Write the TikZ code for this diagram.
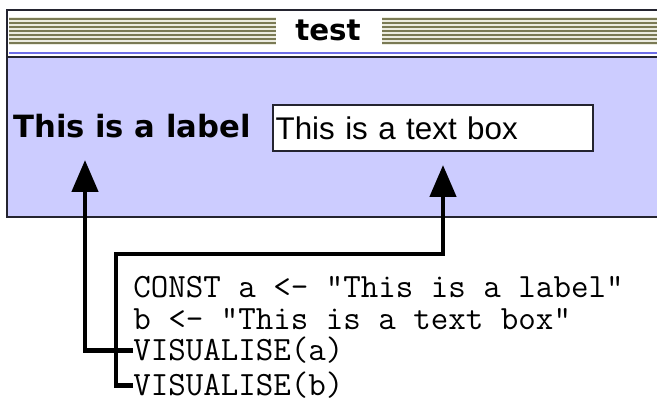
\documentclass[tikz,border=0pt]{standalone}
\usepackage{fontspec}
\usepackage{tikz}
\usetikzlibrary{arrows.meta,positioning}
\newfontfamily\guifont{DejaVu Sans}
\newfontfamily\fieldfont{Liberation Sans}
\definecolor{winblue}{RGB}{204,204,255}
\definecolor{stripe}{RGB}{122,122,84}
\definecolor{stripebg}{RGB}{236,236,224}
\definecolor{titleline}{RGB}{110,110,232}
\definecolor{frame}{RGB}{36,36,48}
\tikzset{guilabel/.style={font=\guifont\bfseries\fontsize{23}{26}\selectfont, inner sep=0pt, anchor=base west},
textfield/.style={draw=frame, line width=1.5pt, fill=white, anchor=west, inner xsep=2pt, inner ysep=0pt,
  text width=236pt, minimum height=34.5pt, align=left, font=\fieldfont\fontsize{23.5}{26}\selectfont},
codeline/.style={font=\ttfamily\fontsize{25.5}{24}\selectfont, inner sep=0pt, anchor=base west},
%thick connectors with the big filled heads
link/.style={line width=3.5pt, draw=black, -{Triangle[width=19.5pt,length=24pt]}}}

\begin{document}
\begin{tikzpicture}[x=0.75pt, y=-0.75pt]

\useasboundingbox (0,0) rectangle (657,402);

\begin{scope}
  \clip (0,0) rectangle (657,402);
  \fill[white] (7,10) rectangle (680,56);
  \fill[winblue] (7,57) rectangle (680,217);
  \fill[stripebg] (9,17) rectangle (276,45);
  \fill[stripebg] (382,17) rectangle (680,45);
  \foreach \y in {19,23,...,43} {
    \draw[stripe, line width=1.3pt] (9,\y) -- (276,\y);
    \draw[stripe, line width=1.3pt] (382,\y) -- (680,\y);
  }
  \draw[titleline, line width=1.5pt] (9,53.5) -- (680,53.5);
  \draw[frame, line width=1.5pt] (7,57.5) -- (680,57.5);
  \draw[frame, line width=1.7pt] (680,10) -- (7,10) -- (7,217) -- (680,217);
\end{scope}

\node[font=\guifont\bfseries\fontsize{22}{24}\selectfont, anchor=base, inner sep=0pt] (title) at (328,41) {test};

\node[guilabel] (lbl) at (13,138) {This is a label};
\node[textfield] (field) at (272,128) {This is a text box};

\node[codeline] (cdef) at (133,298) {CONST a <- “This is a label”};
\node[codeline] (cbind) at (133,330) {b <- “This is a text box”};
\node[codeline] (visa) at (133,361) {VISUALISE(a)};
\node[codeline] (visb) at (133,396) {VISUALISE(b)};

\coordinate (tipa) at (85,160);
\coordinate (tipb) at (443,165);
\coordinate (bend) at (116,254);

\draw[link] (visa.west) -| (tipa);
\draw[link] (visb.west) -| (bend) -| (tipb);

\end{tikzpicture}
\end{document}
